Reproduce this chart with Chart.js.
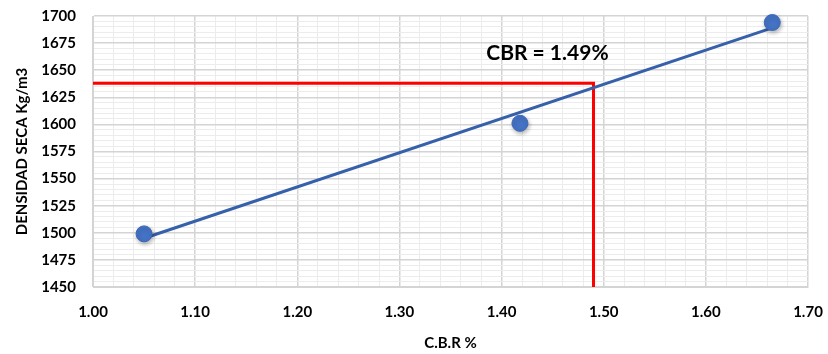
<!DOCTYPE html>
<html>
<head>
<meta charset="utf-8">
<script src="https://cdn.jsdelivr.net/npm/chart.js@4"></script>
<style>
  html, body { margin: 0; padding: 0; background: #fff; }
  #wrap { width: 828px; height: 354px; }
</style>
</head>
<body>
<div id="wrap"><canvas id="myChart" width="828" height="354"></canvas></div>
<script>
// data
const cbrValues = [1.05, 1.418, 1.665];
const densityValues = [1499, 1601, 1694];
// trendline ends (as drawn)
const trendX = [1.05, 1.665];
const trendY = [1495, 1689];
// CBR reading
const cbrResult = 1.49;
const cbrDensity = 1638;
const cbrLabel = "CBR = 1.49%";
// axes
const xMin = 1.0, xMax = 1.7, xMajor = 0.1, xMinor = 0.02;
const yMin = 1450, yMax = 1700, yMajor = 25, yMinor = 5;

const font = "Lato";

function isMajor(v, step) {
  const r = v / step;
  return Math.abs(r - Math.round(r)) < 1e-6;
}

// no extra room for overflowing labels, the layout padding handles it
function noPad(s) {
  s.paddingTop = 0; s.paddingBottom = 0;
  s.paddingLeft = 0; s.paddingRight = 0;
}

const pts = cbrValues.map((x, i) => ({x: x, y: densityValues[i]}));
const trend = trendX.map((x, i) => ({x: x, y: trendY[i]}));
const redLine = [
  {x: xMin, y: cbrDensity},
  {x: cbrResult, y: cbrDensity},
  {x: cbrResult, y: yMin}
];

// label for the cbr reading + soft shadow under the markers
const labelPlugin = {
  id: "cbrLabel",
  beforeDatasetDraw(chart, args) {
    if (args.index !== 2) return;
    const ctx = chart.ctx;
    ctx.save();
    ctx.shadowColor = "rgba(0,0,0,0.3)";
    ctx.shadowBlur = 4;
    ctx.shadowOffsetX = 1;
    ctx.shadowOffsetY = 2;
  },
  afterDatasetDraw(chart, args) {
    if (args.index === 2) chart.ctx.restore();
  },
  afterDatasetsDraw(chart) {
    const ctx = chart.ctx;
    const xs = chart.scales.x, ys = chart.scales.y;
    ctx.save();
    ctx.font = "bold 21px " + font;
    ctx.fillStyle = "#000";
    ctx.textBaseline = "middle";
    ctx.fillText(cbrLabel, xs.getPixelForValue(1.385), ys.getPixelForValue(1666));
    ctx.restore();
  }
};

new Chart("myChart", {
  type: "scatter",
  data: {
    datasets: [{
      data: redLine,
      showLine: true,
      borderColor: "#ff0000",
      borderWidth: 3,
      pointRadius: 0,
      clip: false,
      order: 3
    }, {
      data: trend,
      showLine: true,
      borderColor: "#3660aa",
      borderWidth: 3,
      pointRadius: 0,
      order: 2
    }, {
      data: pts,
      backgroundColor: "#4472c4",
      borderColor: "#3d68b8",
      borderWidth: 1,
      pointRadius: 8,
      clip: false,
      order: 1
    }]
  },
  plugins: [labelPlugin],
  options: {
    responsive: false,
    animation: false,
    layout: {padding: {left: 4, right: 20, top: 16, bottom: 2}},
    plugins: {legend: {display: false}, tooltip: {enabled: false}},
    scales: {
      x: {
        min: xMin, max: xMax,
        afterFit(s) { s.height = 65; noPad(s); },
        ticks: {
          stepSize: xMinor,
          autoSkip: false,
          maxRotation: 0,
          padding: 16,
          color: "#000",
          font: {family: font, size: 15, weight: "bold"},
          callback: v => isMajor(v, xMajor) ? v.toFixed(2) : ""
        },
        grid: {
          drawTicks: false,
          color: c => isMajor(c.tick.value, xMajor) ? "#d4d4d4" : "#ececec",
          lineWidth: c => isMajor(c.tick.value, xMajor) ? 1.5 : 1
        },
        border: {color: "#d4d4d4"},
        title: {
          display: true, text: "C.B.R %", color: "#000",
          font: {family: font, size: 15, weight: "bold"},
          padding: {top: 8, bottom: 0}
        }
      },
      y: {
        min: yMin, max: yMax,
        afterFit(s) { s.width = 89; noPad(s); },
        ticks: {
          stepSize: yMinor,
          autoSkip: false,
          padding: 17,
          color: "#000",
          font: {family: font, size: 15, weight: "bold"},
          callback: v => isMajor(v, yMajor) ? v : ""
        },
        grid: {
          drawTicks: false,
          color: c => isMajor(c.tick.value, yMajor) ? "#d4d4d4" : "#ececec",
          lineWidth: c => isMajor(c.tick.value, yMajor) ? 1.5 : 1
        },
        border: {color: "#d4d4d4"},
        title: {
          display: true, text: "DENSIDAD SECA Kg/m3", color: "#000",
          font: {family: font, size: 15, weight: "bold"},
          padding: {top: 9, bottom: 0}
        }
      }
    }
  }
});
</script>
</body>
</html>
